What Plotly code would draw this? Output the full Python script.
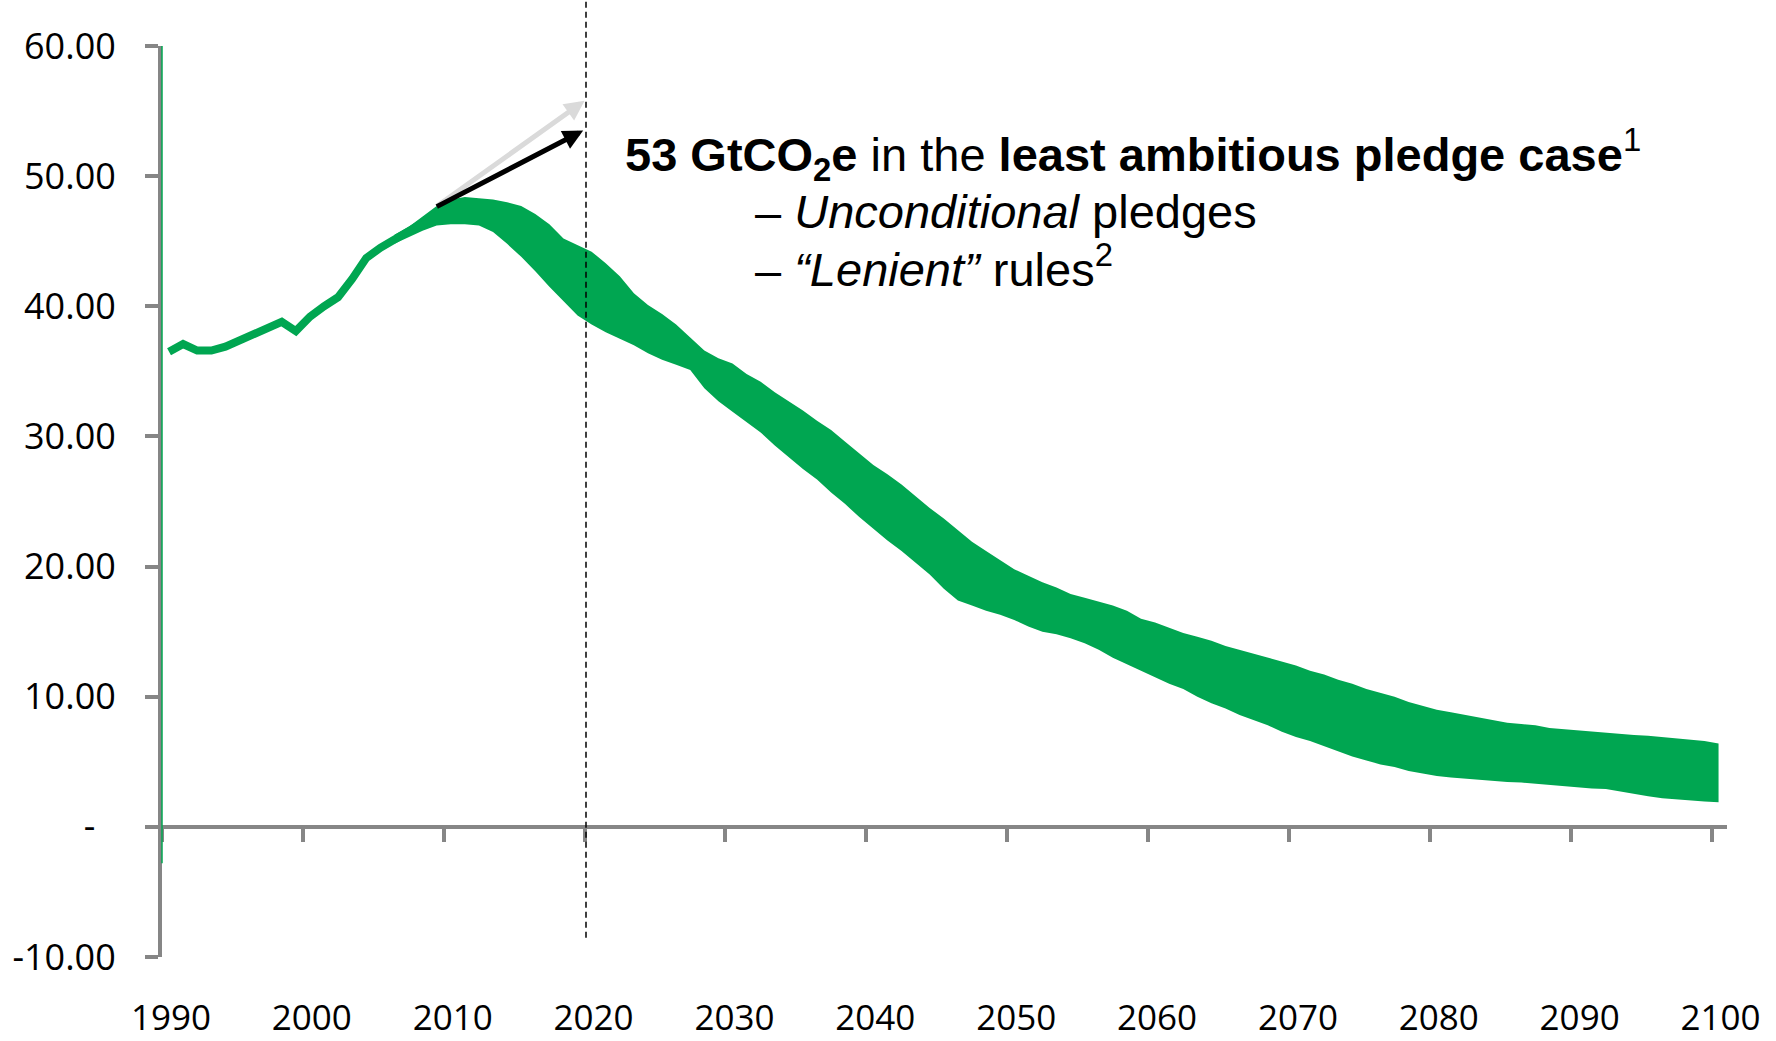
import plotly.graph_objects as go

# Historical emissions (GtCO2e)
HIST_YEARS = list(range(1990, 2009))
HIST_VALUES = [36.5, 37.1, 36.6, 36.6, 36.9, 37.4, 37.9, 38.4, 38.8, 38.1,
               39.2, 40.0, 40.7, 42.1, 43.7, 44.5, 45.1, 45.7, 46.4]

# Pledge pathway range (GtCO2e)
BAND_YEARS = list(range(2006, 2101))
BAND_UPPER = [45.5, 46.1, 46.9, 47.7, 48.2, 48.4, 48.3, 48.2, 48.0, 47.7,
              47.1, 46.3, 45.2, 44.7, 44.2, 43.3, 42.3, 41.0, 40.1, 39.4,
              38.6, 37.6, 36.6, 36.0, 35.6, 34.8, 34.2, 33.4, 32.7, 32.0,
              31.2, 30.5, 29.6, 28.7, 27.8, 27.1, 26.3, 25.4, 24.5, 23.7,
              22.8, 21.9, 21.2, 20.5, 19.8, 19.3, 18.8, 18.4, 17.9, 17.6,
              17.3, 17.0, 16.6, 16.0, 15.7, 15.3, 14.9, 14.6, 14.3, 13.9,
              13.6, 13.3, 13.0, 12.7, 12.4, 12.0, 11.7, 11.3, 11.0, 10.6,
              10.3, 10.0, 9.6, 9.3, 9.0, 8.8, 8.6, 8.4, 8.2, 8.0,
              7.9, 7.8, 7.6, 7.5, 7.4, 7.3, 7.2, 7.1, 7.05, 7.0,
              6.9, 6.8, 6.75, 6.6, 6.4]
BAND_LOWER = [44.8, 45.3, 45.8, 46.2, 46.3, 46.3, 46.2, 45.7, 44.8, 43.8,
              42.7, 41.5, 40.4, 39.3, 38.6, 38.0, 37.5, 37.0, 36.4, 35.9,
              35.5, 35.1, 33.7, 32.7, 31.9, 31.1, 30.3, 29.3, 28.4, 27.5,
              26.7, 25.7, 24.8, 23.8, 22.9, 22.0, 21.2, 20.3, 19.4, 18.3,
              17.4, 17.0, 16.6, 16.3, 15.9, 15.4, 15.0, 14.8, 14.5, 14.1,
              13.6, 13.0, 12.5, 12.0, 11.5, 11.0, 10.6, 10.0, 9.5, 9.1,
              8.6, 8.2, 7.8, 7.3, 6.9, 6.6, 6.2, 5.8, 5.4, 5.1,
              4.8, 4.6, 4.3, 4.1, 3.9, 3.8, 3.7, 3.6, 3.5, 3.45,
              3.4, 3.3, 3.2, 3.1, 3.0, 2.95, 2.9, 2.7, 2.5, 2.35,
              2.2, 2.1, 2.0, 1.95, 1.9]

# Axis ticks
DECADES = list(range(1990, 2101, 10))
Y_TICKS = [-10, 0, 10, 20, 30, 40, 50, 60]
Y_TICK_TEXT = ["-10.00", "-\u2007", "10.00", "20.00", "30.00", "40.00", "50.00", "60.00"]

# Arrow anchors (year, GtCO2e)
ARROW_START = (2008.9, 47.6)
BAU_2020 = (2019.5, 55.8)
LEAST_AMBITIOUS_2020 = (2019.4, 53.5)
MARKER_YEAR = 2019.6

GREEN = "#00A651"
AXIS_GREY = "#868686"
TICK_FONT = dict(family="Open Sans, Lato, sans-serif", size=36, color="#000000")
X_TICK_FONT = dict(family="Open Sans, Lato, sans-serif", size=35, color="#000000")
NOTE_FONT = dict(family="Liberation Sans, Arial, sans-serif", size=47, color="#000000")

# category slots: each year occupies [year-0.5, year+0.5]; ticks on slot edges
tick_pos = [d - 0.5 for d in DECADES]
x_range = [1989.5, 2100.6]

fig = go.Figure()

fig.add_trace(go.Scatter(x=BAND_YEARS, y=BAND_LOWER, mode="lines",
                         line=dict(width=0, color=GREEN),
                         hoverinfo="skip", showlegend=False))
fig.add_trace(go.Scatter(x=BAND_YEARS, y=BAND_UPPER, mode="lines",
                         line=dict(width=0, color=GREEN),
                         fill="tonexty", fillcolor=GREEN,
                         hoverinfo="skip", showlegend=False))
fig.add_trace(go.Scatter(x=HIST_YEARS, y=HIST_VALUES, mode="lines",
                         line=dict(width=8, color=GREEN),
                         hoverinfo="skip", showlegend=False))
# carrier trace for the axis that sits on y = 0
fig.add_trace(go.Scatter(x=[DECADES[0]], y=[None], xaxis="x2", yaxis="y",
                         mode="lines", hoverinfo="skip", showlegend=False))

fig.update_layout(
    width=1776, height=1041, autosize=False,
    margin=dict(l=162, r=49, t=46, b=84, autoexpand=False),
    paper_bgcolor="white", plot_bgcolor="white",
    showlegend=False,
    xaxis=dict(range=x_range, tickmode="array", tickvals=tick_pos,
               ticktext=[str(d) for d in DECADES], showgrid=False,
               zeroline=False, showline=False, ticks="",
               tickfont=X_TICK_FONT, ticklabelshift=9, ticklabelstandoff=37,
               automargin=False, fixedrange=True),
    xaxis2=dict(range=x_range, overlaying="x", anchor="free",
                position=10 / 70, side="bottom", tickmode="array",
                tickvals=tick_pos, showticklabels=False, showgrid=False,
                zeroline=False, showline=True, linecolor=AXIS_GREY,
                linewidth=4, ticks="outside", ticklen=13, tickwidth=4,
                tickcolor=AXIS_GREY, automargin=False, fixedrange=True),
    yaxis=dict(range=[-10, 60], tickmode="array", tickvals=Y_TICKS,
               ticktext=Y_TICK_TEXT, showgrid=False, zeroline=False,
               showline=True, linecolor=AXIS_GREY, linewidth=4,
               ticks="outside", ticklen=13, tickwidth=4, tickcolor=AXIS_GREY,
               tickfont=TICK_FONT, ticklabelstandoff=22, automargin=False,
               fixedrange=True),
)

# thin series marker along the vertical axis
fig.add_shape(type="line", xref="paper", yref="y", x0=0, x1=0,
              y0=-2.8, y1=60, line=dict(color=GREEN, width=1.5), layer="above")

# 2020 reference line
fig.add_shape(type="line", xref="x", yref="paper", x0=MARKER_YEAR, x1=MARKER_YEAR,
              y0=0.021, y1=1.06, line=dict(color="#000000", width=1.5, dash="6px,4px"),
              layer="above")

# trend arrows
fig.add_annotation(x=BAU_2020[0], y=BAU_2020[1], ax=ARROW_START[0], ay=ARROW_START[1],
                   xref="x", yref="y", axref="x", ayref="y", text="",
                   showarrow=True, arrowhead=2, arrowsize=0.8, arrowwidth=5,
                   arrowcolor="#DADADA")
fig.add_annotation(x=LEAST_AMBITIOUS_2020[0], y=LEAST_AMBITIOUS_2020[1],
                   ax=ARROW_START[0], ay=ARROW_START[1],
                   xref="x", yref="y", axref="x", ayref="y", text="",
                   showarrow=True, arrowhead=2, arrowsize=0.8, arrowwidth=5,
                   arrowcolor="#000000")

# callout text
fig.add_annotation(x=2022.2, y=51.7, xref="x", yref="y", xanchor="left", yanchor="middle",
                   showarrow=False, font=NOTE_FONT, align="left",
                   text="<b>53 GtCO<sub>2</sub>e</b> in the <b>least ambitious pledge case</b><sup>1</sup>")
fig.add_annotation(x=2031.45, y=47.3, xref="x", yref="y", xanchor="left", yanchor="middle",
                   showarrow=False, font=NOTE_FONT, align="left",
                   text="– <i>Unconditional</i> pledges")
fig.add_annotation(x=2031.45, y=43.1, xref="x", yref="y", xanchor="left", yanchor="middle",
                   showarrow=False, font=NOTE_FONT, align="left",
                   text="– <i>“Lenient”</i> rules<sup>2</sup>")

fig.write_html("out.html")
